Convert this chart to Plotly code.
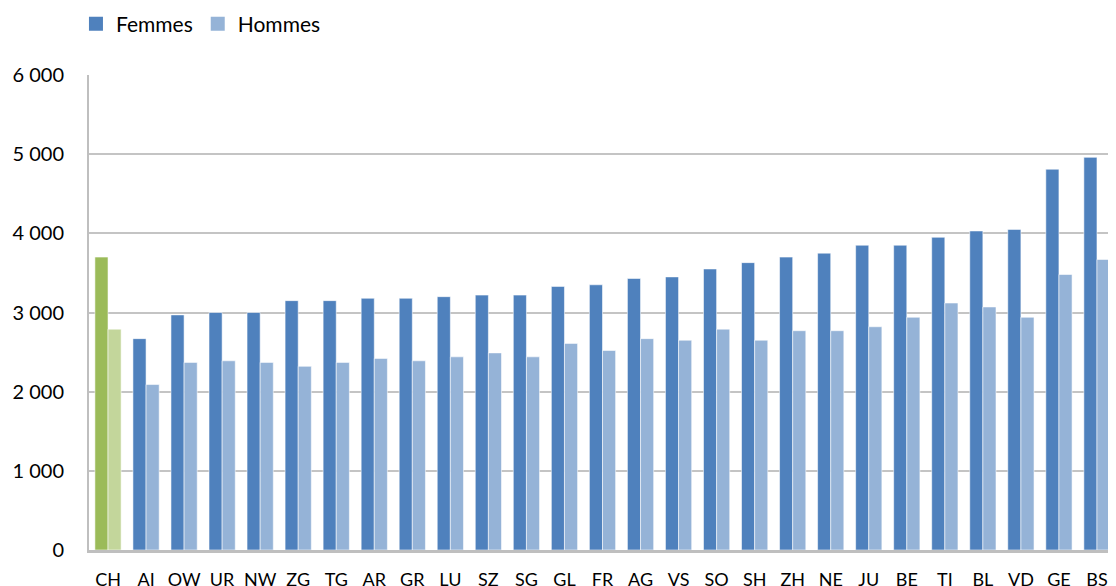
import plotly.graph_objects as go

cantons = ["CH", "AI", "OW", "UR", "NW", "ZG", "TG", "AR", "GR", "LU", "SZ", "SG", "GL", "FR",
           "AG", "VS", "SO", "SH", "ZH", "NE", "JU", "BE", "TI", "BL", "VD", "GE", "BS"]
femmes = [3700, 2670, 2970, 3000, 3000, 3150, 3150, 3180, 3180, 3200, 3220, 3220, 3330, 3350,
          3430, 3450, 3550, 3630, 3700, 3750, 3850, 3850, 3950, 4030, 4050, 4810, 4960]
hommes = [2790, 2090, 2370, 2390, 2370, 2320, 2370, 2420, 2390, 2440, 2490, 2440, 2610, 2520,
          2670, 2650, 2790, 2650, 2770, 2770, 2820, 2940, 3120, 3070, 2940, 3480, 3670]
y_ticks = [0, 1000, 2000, 3000, 4000, 5000, 6000]
y_labels = ["0", "1 000", "2 000", "3 000", "4 000", "5 000", "6 000"]

FONT = "Lato, Calibri, sans-serif"
BLUE, LIGHT_BLUE = "#4F81BD", "#95B3D7"
edge = dict(color="rgba(255,255,255,0.55)", width=1)

fig = go.Figure()
# cantons in blue, the Swiss total (CH) highlighted in green
fig.add_bar(x=cantons[1:], y=femmes[1:], offsetgroup="F", showlegend=False,
            marker=dict(color=BLUE, line=edge))
fig.add_bar(x=cantons[1:], y=hommes[1:], offsetgroup="H", showlegend=False,
            marker=dict(color=LIGHT_BLUE, line=edge))
fig.add_bar(x=cantons[:1], y=femmes[:1], offsetgroup="F", showlegend=False,
            marker=dict(color="#9BBB59", line=edge))
fig.add_bar(x=cantons[:1], y=hommes[:1], offsetgroup="H", showlegend=False,
            marker=dict(color="#C3D69B", line=edge))
# legend-only entries: bigger square swatches than plotly's bar icon
for name, col in (("Femmes", BLUE), ("Hommes", LIGHT_BLUE)):
    fig.add_scatter(x=[None], y=[None], mode="markers", name=name,
                    marker=dict(symbol="square", size=14, color=col))

# page body keeps its default 8px margin, so the figure is sized/offset for it
fig.update_layout(
    width=1108, height=578,
    margin=dict(l=81, r=0, t=67, b=36, autoexpand=False),
    paper_bgcolor="white", plot_bgcolor="white",
    barmode="group", bargap=0.31, bargroupgap=0,
    font=dict(family=FONT, size=20, color="#000000"),
    showlegend=True,
    legend=dict(orientation="h", x=-0.0127, xanchor="left", y=1.107, yanchor="middle",
                font=dict(size=21), itemwidth=30, traceorder="normal"),
)
fig.update_xaxes(
    categoryorder="array", categoryarray=cantons,
    showline=True, linecolor="#BFBFBF", linewidth=3, ticks="",
    ticklabelstandoff=11, tickfont=dict(size=18),
)
fig.update_yaxes(
    range=[0, 6000], tickvals=y_ticks, ticktext=y_labels,
    showgrid=True, gridcolor="#C4C4C4", gridwidth=1.5, zeroline=False,
    showline=True, linecolor="#BFBFBF", linewidth=2, ticks="",
    ticklabelstandoff=19, tickfont=dict(size=20),
)

fig.write_html("out.html")
